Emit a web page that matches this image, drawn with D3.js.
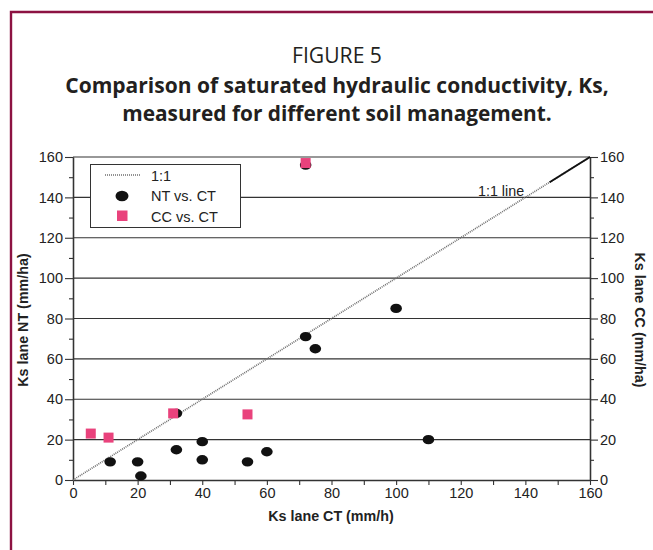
<!DOCTYPE html>
<html>
<head>
<meta charset="utf-8">
<script src="https://cdn.jsdelivr.net/npm/d3@7"></script>
<style>
  html, body { margin: 0; padding: 0; background: #fff; }
  svg { display: block; }
</style>
</head>
<body>
<svg id="chart" width="653" height="550"></svg>
<script>
// Ks under no-tillage (NT) against conventional tillage (CT)
const ntCT = [11.5, 20, 21, 32, 40, 40, 54, 60, 72, 75, 100, 110, 72, 32];
const ntNT = [9, 9, 2, 15, 19, 10, 9, 14, 71, 65, 85, 20, 156, 33];
// Ks under cover crop (CC) against conventional tillage (CT)
const ccCT = [5.5, 11, 31, 54, 72];
const ccCC = [23, 21, 33, 32.5, 157];
// axis ticks
const majorTicks = [0, 20, 40, 60, 80, 100, 120, 140, 160];
const minorTicks = [10, 30, 50, 70, 90, 110, 130, 150];
const gridValues = [20, 40, 60, 80, 100, 120, 140, 160];
const oneToOne = [0, 160];
const solidSegment = [147.5, 160];

const svg = d3.select("#chart");
const sans = "'Liberation Sans', Arial, sans-serif";
const titleFont = "'Open Sans', 'Noto Sans', sans-serif";
const maroon = "#8c1242";
const pink = "#e9427c";

// frame
svg.append("path")
  .attr("d", "M11,560 V12 H660")
  .attr("fill", "none")
  .attr("stroke", maroon)
  .attr("stroke-width", 2.4);

// title block
const titles = [
  { text: "FIGURE 5", y: 63, weight: 400, width: 90 },
  { text: "Comparison of saturated hydraulic conductivity, Ks,", y: 93, weight: 700, width: 544 },
  { text: "measured for different soil management.", y: 121, weight: 700, width: 430 }
];
titles.forEach(t => {
  const el = svg.append("text")
    .attr("x", 337).attr("y", t.y)
    .attr("text-anchor", "middle")
    .attr("font-family", titleFont)
    .attr("font-weight", t.weight)
    .attr("font-size", 20)
    .attr("fill", "#231f20")
    .text(t.text);
  const w = el.node().getComputedTextLength();
  el.attr("font-size", 20 * t.width / w);
});

const x = d3.scaleLinear().domain([0, 160]).range([73, 590]);
const y = d3.scaleLinear().domain([0, 160]).range([480, 157]);

// horizontal grid
svg.append("g").selectAll("line").data(gridValues).join("line")
  .attr("x1", x(0)).attr("x2", x(160))
  .attr("y1", d => y(d)).attr("y2", d => y(d))
  .attr("stroke", "#333").attr("stroke-width", 1.2);

// axes
function styleAxis(g) {
  g.selectAll("path.domain").attr("stroke", "#333").attr("stroke-width", 1.3);
  g.selectAll(".tick line").attr("stroke", "#333").attr("stroke-width", 1.1);
  g.selectAll(".tick text").attr("font-family", sans).attr("font-size", 14.5).attr("fill", "#222");
}
const fmt = d3.format("d");

svg.append("g").attr("transform", `translate(${x(0)},0)`)
  .call(d3.axisLeft(y).tickValues(majorTicks).tickSize(8).tickSizeOuter(0).tickPadding(2).tickFormat(fmt))
  .call(styleAxis);
svg.append("g").attr("transform", `translate(${x(0)},0)`)
  .call(d3.axisLeft(y).tickValues(minorTicks).tickSize(4).tickSizeOuter(0).tickFormat(""))
  .call(styleAxis);

svg.append("g").attr("transform", `translate(${x(160)},0)`)
  .call(d3.axisRight(y).tickValues(majorTicks).tickSize(8).tickSizeOuter(0).tickPadding(2).tickFormat(fmt))
  .call(styleAxis);
svg.append("g").attr("transform", `translate(${x(160)},0)`)
  .call(d3.axisRight(y).tickValues(minorTicks).tickSize(4).tickSizeOuter(0).tickFormat(""))
  .call(styleAxis);

svg.append("g").attr("transform", `translate(0,${y(0)})`)
  .call(d3.axisBottom(x).tickValues(majorTicks.concat(minorTicks)).tickSize(5).tickSizeOuter(0).tickPadding(3)
    .tickFormat(d => d % 20 === 0 ? fmt(d) : ""))
  .call(styleAxis);

// axis titles
svg.append("text")
  .attr("x", 331).attr("y", 521)
  .attr("text-anchor", "middle")
  .attr("font-family", sans).attr("font-weight", 700).attr("font-size", 14.3).attr("fill", "#222")
  .text("Ks lane CT (mm/h)");
svg.append("text")
  .attr("transform", "translate(28,320) rotate(-90)")
  .attr("text-anchor", "middle")
  .attr("font-family", sans).attr("font-weight", 700).attr("font-size", 14.3).attr("fill", "#222")
  .text("Ks lane NT (mm/ha)");
svg.append("text")
  .attr("transform", "translate(635,320) rotate(90)")
  .attr("text-anchor", "middle")
  .attr("font-family", sans).attr("font-weight", 700).attr("font-size", 14.3).attr("fill", "#222")
  .text("Ks lane CC (mm/ha)");

// 1:1 reference line
svg.append("line")
  .attr("x1", x(oneToOne[0])).attr("y1", y(oneToOne[0]))
  .attr("x2", x(oneToOne[1])).attr("y2", y(oneToOne[1]))
  .attr("stroke", "#6f6f6f").attr("stroke-width", 1.7).attr("stroke-dasharray", "1,1");
svg.append("line")
  .attr("x1", x(solidSegment[0])).attr("y1", y(solidSegment[0]))
  .attr("x2", x(solidSegment[1])).attr("y2", y(solidSegment[1]))
  .attr("stroke", "#111").attr("stroke-width", 2);
svg.append("text")
  .attr("x", 478).attr("y", 196)
  .attr("font-family", sans).attr("font-size", 14.3).attr("fill", "#222")
  .text("1:1 line");

// NT vs CT points
svg.append("g").selectAll("ellipse").data(ntCT.map((c, i) => [c, ntNT[i]])).join("ellipse")
  .attr("cx", d => x(d[0])).attr("cy", d => y(d[1]))
  .attr("rx", 5.8).attr("ry", 4.7)
  .attr("fill", "#111");

// CC vs CT points
const sq = 10;
svg.append("g").selectAll("rect").data(ccCT.map((c, i) => [c, ccCC[i]])).join("rect")
  .attr("x", d => x(d[0]) - sq / 2).attr("y", d => y(d[1]) - sq / 2)
  .attr("width", sq).attr("height", sq)
  .attr("fill", pink);

// legend
const lg = svg.append("g");
lg.append("rect").attr("x", 90.5).attr("y", 164.5).attr("width", 150).attr("height", 63)
  .attr("fill", "#fff").attr("stroke", "#333").attr("stroke-width", 1);
lg.append("line").attr("x1", 105).attr("x2", 140).attr("y1", 175).attr("y2", 175)
  .attr("stroke", "#6f6f6f").attr("stroke-width", 1.7).attr("stroke-dasharray", "1,1");
lg.append("ellipse").attr("cx", 122).attr("cy", 196).attr("rx", 6.5).attr("ry", 5.3).attr("fill", "#111");
lg.append("rect").attr("x", 117).attr("y", 210.5).attr("width", 10.5).attr("height", 10.5).attr("fill", pink);
const legendLabels = ["1:1", "NT vs. CT", "CC vs. CT"];
lg.selectAll("text").data(legendLabels).join("text")
  .attr("x", 151).attr("y", (d, i) => 180.5 + i * 20.5)
  .attr("font-family", sans).attr("font-size", 14.5).attr("fill", "#222")
  .text(d => d);
</script>
</body>
</html>
